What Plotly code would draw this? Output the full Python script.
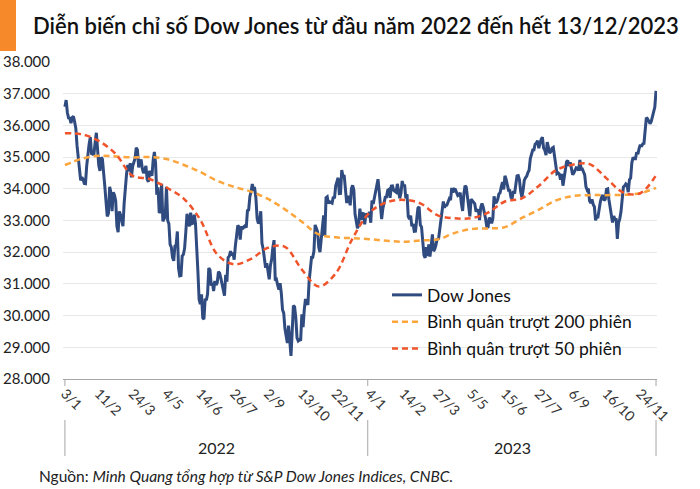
import pandas as pd
import plotly.graph_objects as go

# ---------------- data ----------------
holidays = ["2022-01-17", "2022-02-21", "2022-04-15", "2022-05-30", "2022-06-20",
            "2022-07-04", "2022-09-05", "2022-11-24", "2022-12-26",
            "2023-01-02", "2023-01-16", "2023-02-20", "2023-04-07", "2023-05-29",
            "2023-06-19", "2023-07-04", "2023-09-04", "2023-11-23"]
start_date = "2022-01-03"
end_date = "2023-12-13"

dow_2022 = [
    36585, 36799, 36408, 36236, 36232, 36068, 36252, 36290, 36114, 35912, 35369, 35029, 34715, 34265, 34365, 34298, 34168, 34161, 34725, 35132,
    35405, 35630, 35111, 35089, 35091, 35463, 35768, 35241, 34738, 34566, 34989, 34935, 34312, 34079, 33597, 33132, 33224, 34059, 33893,
    33295, 33891, 33795, 33615, 32818, 32633, 33286, 33174, 32945, 32818, 33545, 34063, 34481, 34755, 34553, 34808, 34359, 34708, 34862, 34956, 35295, 35229, 34678,
    34818, 34922, 34641, 34497, 34584, 34721, 34308, 34220, 34565, 34452, 34412, 34911, 35161, 34793, 33811, 34049, 33240, 33302, 34160, 32977,
    33061, 33129, 34061, 32998, 32899, 32246, 32161, 31834, 31730, 32197, 32223, 32655, 31490, 31253, 31262, 31880, 31929, 32120, 32637, 33213, 32990,
    32813, 33248, 32900, 32916, 33180, 32911, 32273, 31393, 30517, 30365, 30669, 29927, 29889, 30530, 30484, 30677, 31501, 31439, 30947, 31029, 30775,
    31097, 30968, 31037, 31385, 31338, 31173, 30982, 30773, 30630, 31289, 31072, 31828, 31875, 32037, 31900, 31990, 31762, 32198, 32529, 32845,
    32798, 32397, 32813, 32727, 32803, 32833, 32775, 33310, 33337, 33761, 33913, 34152, 33981, 33999, 33707, 33064, 32910, 32970, 33292, 32283, 32099, 31791, 31510,
    31656, 31318, 31145, 31581, 31775, 32152, 32381, 31105, 31136, 30962, 30822, 31020, 30706, 30184, 30077, 29590, 29261, 29135, 29684, 29226, 28726,
    29491, 30317, 30274, 29927, 29297, 29203, 29240, 29211, 30039, 29635, 30186, 30524, 30424, 30334, 31083, 31500, 31837, 31839, 32034, 32861, 32733,
    32653, 32148, 32001, 32403, 32827, 33161, 32514, 33716, 33748, 33537, 33593, 33554, 33547, 33746, 33701, 34098, 34195, 34347, 33850, 33853, 34590,
    34395, 34430, 33947, 33597, 33598, 33781, 33476, 34005, 34108, 33966, 33203, 32920, 32757, 32850, 33377, 33027, 33204, 33242, 32876, 33221, 33147,
]
dow_2023 = [
    33136, 33270, 32930, 33631, 33518, 33704, 33974, 34190, 34303, 33910, 33297, 33045, 33375, 33629, 33734, 33744, 33950, 33978, 33718, 34086,
    34093, 33950, 33926, 33891, 34156, 33949, 33699, 33869, 34246, 34089, 34128, 33697, 33827, 33130, 33045, 33154, 32817, 32889, 32657,
    32662, 33004, 33391, 33432, 32856, 32798, 32254, 31910, 31820, 32155, 31875, 32247, 31862, 32245, 32560, 32030, 32106, 32238, 32433, 32395, 32718, 32860, 33274,
    33601, 33403, 33483, 33486, 33587, 33685, 33647, 34030, 33887, 33988, 33977, 33897, 33787, 33809, 33876, 33531, 33302, 33827, 34098,
    34051, 33684, 33415, 33128, 33675, 33619, 33562, 33531, 33309, 33301, 33349, 33012, 33420, 33536, 33427, 33286, 33056, 32800, 32765, 33093, 33043, 32908,
    33061, 33763, 33563, 33573, 33665, 33834, 33877, 34066, 34212, 33979, 34408, 34299, 34053, 33952, 33947, 33727, 33715, 33927, 33853, 34122, 34408,
    34418, 34288, 33922, 33734, 33944, 34262, 34347, 34395, 34509, 34585, 34952, 35061, 35225, 35228, 35411, 35438, 35520, 35282, 35459, 35560,
    35630, 35283, 35216, 35066, 35473, 35314, 35124, 35176, 35281, 35308, 34946, 34766, 34475, 34501, 34464, 34288, 34473, 34099, 34347, 34560, 34853, 34891, 34722,
    34838, 34642, 34443, 34501, 34577, 34664, 34646, 34576, 34908, 34618, 34624, 34518, 34441, 34070, 33964, 34007, 33619, 33551, 33667, 33508,
    33433, 33002, 33130, 33120, 33408, 33605, 33740, 33805, 33631, 33670, 33985, 33998, 33665, 33415, 33127, 32937, 33141, 33036, 33035, 32418, 32929, 33053,
    33275, 33839, 34061, 34096, 34153, 34112, 33892, 34283, 34338, 34828, 34992, 34946, 34947, 35151, 35088, 35273, 35390, 35334, 35417, 35430, 35951,
    36246, 36205, 36125, 36055, 36118, 36248, 36405, 36578, 37090,
]

# moving averages read every 14 sessions (plus the last session)
ma_step = 14
ma200 = [34750, 34950, 35040, 35020, 34990, 35000, 34940, 34760, 34530, 34250, 34060, 33910,
         33680, 33350, 32960, 32560, 32470, 32440, 32410, 32360, 32330, 32370, 32400, 32600,
         32730, 32750, 32790, 33080, 33340, 33630, 33770, 33800, 33800, 33810, 33860, 34030]
ma50 = [35750, 35720, 35510, 35100, 34410, 34310, 34040, 33700, 33020, 31930, 31620, 31790,
        32140, 32170, 31450, 30920, 31330, 32440, 33250, 33570, 33650, 33540, 33170, 33070,
        33070, 33250, 33600, 33700, 34090, 34580, 34760, 34780, 34330, 33880, 33860, 34430]

tick_step = 28
tick_labels = ["3/1", "11/2", "24/3", "4/5", "14/6", "26/7", "2/9", "13/10", "22/11",
               "4/1", "14/2", "27/3", "5/5", "15/6", "27/7", "6/9", "16/10", "24/11"]
year_labels = ["2022", "2023"]
y_ticks = [28000, 29000, 30000, 31000, 32000, 33000, 34000, 35000, 36000, 37000, 38000]

series_names = ["Dow Jones", "Bình quân trượt 200 phiên", "Bình quân trượt 50 phiên"]
title_text = "Diễn biến chỉ số Dow Jones từ đầu năm 2022 đến hết 13/12/2023"
source_text = "Nguồn: <i>Minh Quang tổng hợp từ S&P Dow Jones Indices, CNBC.</i>"

# ---------------- build ----------------
bday = pd.offsets.CustomBusinessDay(holidays=holidays)
days = pd.date_range(start_date, end_date, freq=bday)
cats = [d.strftime("%Y-%m-%d") for d in days]
dow = dow_2022 + dow_2023
assert len(cats) == len(dow), (len(cats), len(dow))

ma_idx = list(range(0, len(cats), ma_step))
if ma_idx[-1] != len(cats) - 1:
    ma_idx.append(len(cats) - 1)
ma_x = [cats[i] for i in ma_idx]
assert len(ma_x) == len(ma200) == len(ma50)

tickvals = cats[::tick_step]
assert len(tickvals) == len(tick_labels)

FONT = "Lato"
BLUE = "#2f4b7f"
ORANGE = "#fba53c"
RED = "#f0542b"

fig = go.Figure()
fig.add_trace(go.Scatter(x=cats, y=dow, mode="lines", name=series_names[0],
                         line=dict(color=BLUE, width=3), legendgroup="a"))
fig.add_trace(go.Scatter(x=ma_x, y=ma200, mode="lines", name=series_names[1],
                         line=dict(color=ORANGE, width=2.5, dash="6px,4px", shape="spline", smoothing=1.0),
                         legendgroup="b"))
fig.add_trace(go.Scatter(x=ma_x, y=ma50, mode="lines", name=series_names[2],
                         line=dict(color=RED, width=2.5, dash="6px,4px", shape="spline", smoothing=1.0),
                         legendgroup="c"))

L, R, T, B = 63, 43, 62, 110
W, H = 700, 489
ph = H - T - B
pw = W - L - R

def py(px):
    return (H - B - px) / ph

def pxx(px):
    return (px - L) / pw

n22 = len(dow_2022)
n = len(dow)
shapes = [dict(type="rect", xref="paper", yref="paper", x0=pxx(0), x1=pxx(16), y0=py(51), y1=py(0),
               fillcolor="#f6892a", line=dict(width=0), layer="above")]
for xv in [0, n22 - 0.5, n - 1]:
    shapes.append(dict(type="line", xref="x", yref="paper", x0=xv, x1=xv, y0=py(379), y1=py(386),
                       line=dict(color="#a6a6a6", width=1)))
    shapes.append(dict(type="line", xref="x", yref="paper", x0=xv, x1=xv, y0=py(420), y1=py(456),
                       line=dict(color="#a6a6a6", width=1)))

annotations = [
    dict(x=(n22 - 1) / 2, y=py(447), xref="x", yref="paper", text=year_labels[0], showarrow=False,
         font=dict(family=FONT, size=16, color="#222"), xanchor="center", yanchor="middle"),
    dict(x=(n22 + n - 1) / 2, y=py(447), xref="x", yref="paper", text=year_labels[1], showarrow=False,
         font=dict(family=FONT, size=16, color="#222"), xanchor="center", yanchor="middle"),
    dict(x=pxx(37), y=py(476), xref="paper", yref="paper", text=source_text, showarrow=False,
         font=dict(family=FONT, size=15.5, color="#222"), xanchor="left", yanchor="middle"),
]

fig.update_layout(
    width=W, height=H,
    margin=dict(l=L, r=R, t=T, b=B, autoexpand=False),
    paper_bgcolor="white", plot_bgcolor="white",
    separators=",.",
    title=dict(text=title_text, x=33 / W, xanchor="left", y=1 - 26 / H, yanchor="middle",
               font=dict(family=FONT, size=22, color="#111", weight=600)),
    showlegend=True,
    legend=dict(x=pxx(387), y=py(277), xanchor="left", yanchor="top", bgcolor="rgba(0,0,0,0)",
                font=dict(family=FONT, size=17.5, color="#111"), tracegroupgap=1, itemwidth=30),
    shapes=shapes,
    annotations=annotations,
    xaxis=dict(type="category", range=[-1.6, n - 0.2], tickvals=tickvals, ticktext=tick_labels,
               tickangle=45, showgrid=False, showline=True, linecolor="#a6a6a6", linewidth=1,
               ticks="", automargin=False,
               tickfont=dict(family=FONT, size=14, color="#333"), zeroline=False),
    yaxis=dict(range=[28000, 38000], tickvals=y_ticks, tickformat=",d", showgrid=True,
               gridcolor="#e8e8e8", gridwidth=1, zeroline=False, showline=False, ticks="",
               ticklabelstandoff=12, automargin=False,
               tickfont=dict(family=FONT, size=15, color="#222")),
)

fig.write_html("out.html", config={"displayModeBar": False},
               post_script="document.body.style.margin='0px';")
